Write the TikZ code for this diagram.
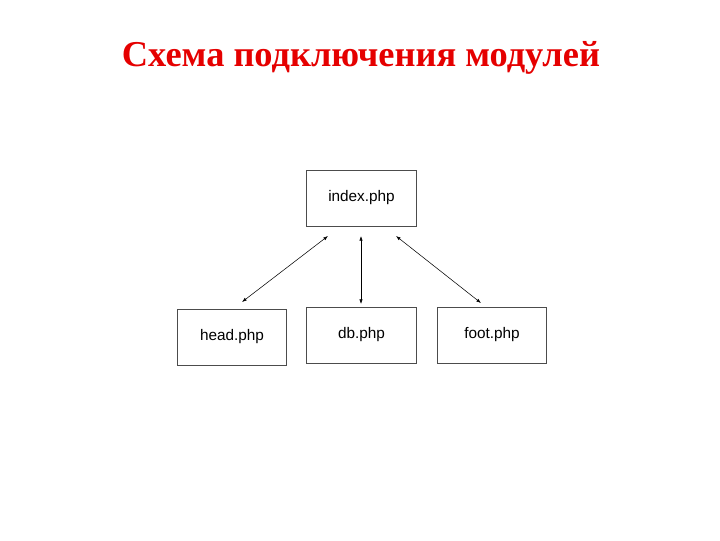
\documentclass[tikz,border=0pt]{standalone}
\usepackage{fontspec}
\setmainfont{Liberation Serif}
\newfontfamily\arial{Liberation Sans}
\usetikzlibrary{arrows.meta}
\begin{document}
\begin{tikzpicture}[x=0.75pt,y=-0.75pt,
  box/.style={draw=black!70,line width=0.6pt,minimum width=82pt,minimum height=42pt,font=\arial\fontsize{11.5}{13}\selectfont,inner sep=0pt},
  link/.style={line width=0.4pt,{Latex[length=3.5pt,width=2.5pt]}-{Latex[length=3.5pt,width=2.5pt]}}]
\useasboundingbox (0,0) rectangle (720,540);
\node[font=\bfseries\fontsize{27.3}{32}\selectfont,text=red!90!black] (title) at (361,58) {Схема подключения модулей};
\node[box] (index) at (361.5,198) {index.php};
\node[box] (head) at (232,337) {head.php};
\node[box] (db) at (361.5,335) {db.php};
\node[box] (foot) at (492,335) {foot.php};
\coordinate (i1) at (328,236); \coordinate (h1) at (242,302);
\coordinate (i2) at (361,236); \coordinate (d1) at (361,304);
\coordinate (i3) at (396,236); \coordinate (f1) at (481,303);
\draw[link] (i1) -- (h1);
\draw[link] (i2) -- (d1);
\draw[link] (i3) -- (f1);
\end{tikzpicture}
\end{document}
